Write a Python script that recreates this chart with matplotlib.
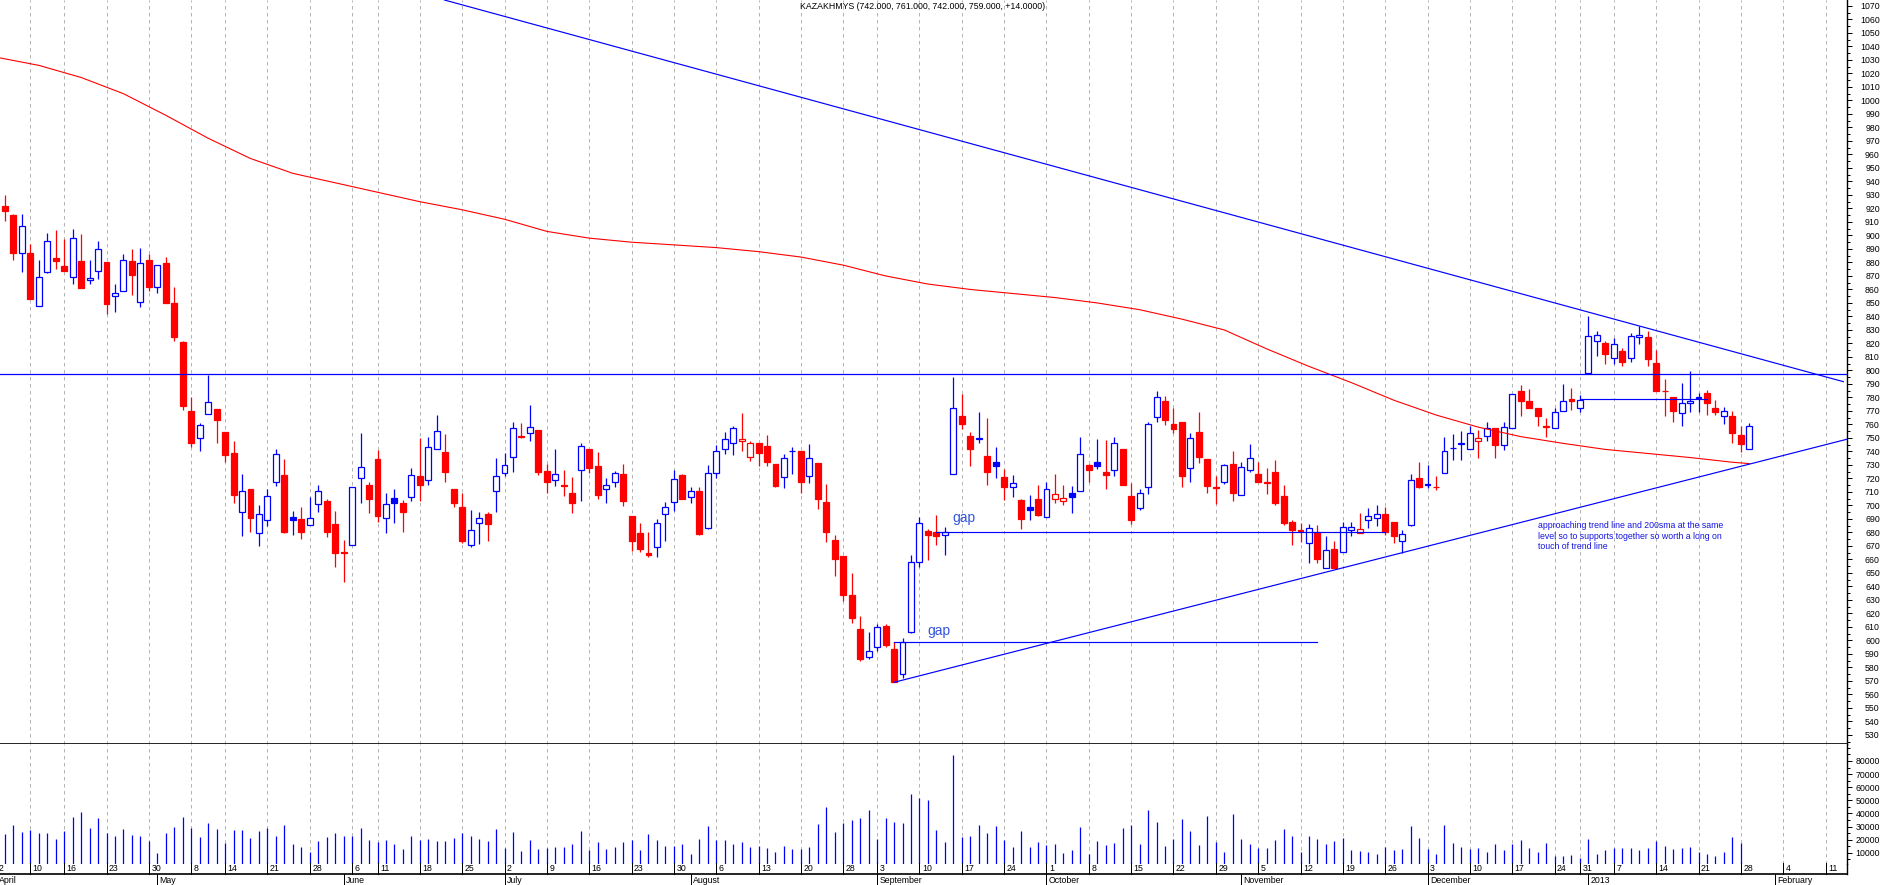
import numpy as np
import pandas as pd
import matplotlib
matplotlib.use("Agg")
import matplotlib.pyplot as plt
from matplotlib.patches import Rectangle
from matplotlib.collections import LineCollection
from matplotlib.lines import Line2D
from matplotlib.transforms import blended_transform_factory

plt.rcParams['font.family'] = ['Liberation Sans', 'DejaVu Sans']

TITLE = "KAZAKHMYS (742.000, 761.000, 742.000, 759.000, +14.0000)"
HOLIDAYS = ['2012-04-06', '2012-04-09', '2012-05-07', '2012-06-04', '2012-06-05',
            '2012-08-27', '2012-12-25', '2012-12-26', '2013-01-01']
calendar = pd.bdate_range('2012-04-02', '2013-02-15', freq='C', holidays=HOLIDAYS)

opens = [922, 915, 887, 887, 848, 873, 883, 877, 869, 881,
         867, 874, 880, 855, 858.5, 881, 850.5, 882, 862, 879.5,
         850, 821, 770, 750, 768, 771.5, 754.5, 739, 695, 712,
         679.5, 689.5, 717, 722.5, 691.5, 690, 685.5, 701, 703.5, 686.5,
         665.5, 671, 720, 715, 734.5, 691, 705.5, 701.5, 706.5, 722,
         718.5, 741.5, 739.5, 712.5, 699, 671, 687, 693.5, 710.5, 724,
         736, 751.5, 753.5, 756, 725.5, 718.5, 715.5, 709, 726, 741.5,
         729.5, 712, 717, 723.5, 692, 679.5, 665, 669, 694, 702.5,
         722.5, 706, 710.5, 683, 724, 741.5, 746, 747.5, 736, 746,
         744, 730.5, 721, 740, 740.5, 722, 731.5, 702.5, 674.5, 662.5,
         633.5, 608.5, 587.5, 595.5, 610.5, 594, 575, 606.5, 658, 681,
         680.5, 677.8, 723, 766.5, 751.5, 749.5, 736.5, 732, 721, 713.5,
         704, 698.5, 705, 691.5, 704.5, 703.5, 709, 710.5, 730, 732,
         725, 726, 742, 707, 698, 713.5, 765.5, 777.5, 760.5, 762,
         727.5, 754.5, 734.5, 713.4, 717, 731, 707.5, 726.5, 723.5, 717.3,
         724.5, 707, 688, 681.5, 672, 680, 654, 668, 665.5, 682,
         679.5, 689.5, 691, 694, 687.5, 673.5, 685.5, 720.5, 716, 713.9,
         724, 742.3, 745.8, 741.5, 748, 751.5, 757, 744.5, 757.5, 785,
         777.5, 772, 758.6, 757.2, 770, 778.5, 772, 798, 821.5, 820,
         809, 814.5, 809, 824.5, 824.5, 805.5, 785, 780.5, 768.5, 775.7,
         779.6, 783, 772.5, 766, 766.5, 752.5, 742]
highs = [930, 916, 916, 894, 882, 902, 904, 897, 905, 901,
         882, 896, 880.5, 864, 886, 890, 890.5, 886, 878, 884,
         862, 822, 780.5, 761, 796.5, 771.5, 754.5, 748, 723, 712.5,
         700.5, 712, 742, 734.5, 696, 699, 706.5, 715, 704.5, 696,
         674.5, 714, 754, 717.5, 741, 709.5, 712, 704, 727.5, 750,
         751, 767, 753, 712.5, 709.5, 696.5, 695, 695, 735, 739,
         762, 761, 774.5, 756, 730.5, 741.5, 726.5, 721, 746.5, 741.5,
         739.5, 720, 725.5, 730.5, 692, 687, 680.5, 690, 702.5, 726.5,
         723.5, 713.5, 713.5, 730, 745, 754.5, 759, 768.5, 748, 746,
         752, 730.5, 738, 743.5, 740.5, 745.5, 731.5, 716, 678, 662.5,
         650, 618, 606, 612.5, 612, 598.5, 601.5, 663.5, 691.5, 682.5,
         693, 684, 795.5, 782.5, 754.5, 769.5, 764.5, 743.5, 727, 722.5,
         705, 708, 715, 717.5, 723.5, 715, 714.5, 750.5, 730.5, 749,
         748.5, 750.5, 742, 716.5, 712, 762, 784.5, 781, 772.5, 762,
         754, 769.5, 734.5, 722, 731, 740.5, 732, 745.5, 732.5, 727.5,
         733.5, 715.5, 689.5, 687, 686.5, 685.5, 677.5, 673.5, 687.5, 687.5,
         694.5, 698, 700, 698.5, 687.5, 681.5, 723.5, 732, 730, 722,
         751, 753, 755.5, 759, 756, 761.5, 757, 761.5, 782.5, 789.5,
         786, 772, 765, 772.5, 790, 787, 782, 840, 829, 821.5,
         824, 816.5, 827.5, 833, 829.5, 815, 793.5, 780.5, 790.5, 799.5,
         783, 785.5, 778, 773, 770, 759, 761]
lows = [911, 882, 873, 853, 848, 872, 875, 874, 864, 861,
        864, 868, 842, 843.5, 858.5, 856, 847, 859, 857.5, 850,
        821.5, 771, 743, 740, 767.5, 746.5, 732.5, 702, 677.5, 680.5,
        670, 685, 714.5, 679.5, 678, 675, 685.5, 695.5, 677, 654.5,
        643, 671, 702, 694.5, 687.5, 679.5, 687, 680.5, 703, 703.5,
        715, 741.5, 717.5, 698.5, 672.5, 669, 671.5, 674, 695.5, 721.5,
        725, 750, 747.5, 722.5, 709.5, 714.5, 707, 694.5, 703.5, 724,
        704.5, 701.5, 713.5, 699.5, 666.5, 665.5, 661.5, 661.5, 674, 696,
        705, 702, 678, 682.5, 720, 738, 737.5, 740, 733, 729.5,
        729.5, 714, 713, 723.5, 709.5, 716.5, 697.5, 673, 648, 629.5,
        613, 585, 586.5, 592.5, 595.5, 569, 572, 605.5, 654.5, 659.5,
        670.5, 663.5, 723, 756.5, 729, 746.5, 715, 720.5, 704, 706,
        682.5, 689.5, 692.5, 691.5, 702, 700, 694.5, 710.5, 717, 727,
        712.5, 722, 715.5, 686, 696.5, 708.5, 762, 759.5, 753.5, 714,
        717.5, 731.5, 709.5, 701, 716, 703, 707.5, 724.5, 717, 708.5,
        700.5, 685.5, 671, 673, 657.5, 657.5, 654, 653.5, 665.5, 677.5,
        679.5, 683, 685, 678, 672, 665, 684.5, 713, 713, 711.5,
        724, 733.5, 733.5, 741.5, 735.5, 747.5, 735, 741, 757.5, 766,
        772.5, 759, 751, 757.2, 770, 770.5, 769, 798, 811, 804.5,
        804.5, 803.5, 806.5, 819.5, 803, 785, 766, 762, 759, 769,
        769, 767, 767, 760, 746.5, 739.5, 742]
closes = [918, 887, 907, 853, 869, 896, 881, 874, 898, 861,
          868.5, 890, 849.5, 857.5, 882, 871, 879.5, 861.5, 878, 850,
          825, 774, 746, 759.5, 776.5, 763.5, 737, 707.5, 711, 690.5,
          693.5, 707, 738, 680, 689.5, 680, 690.5, 710.5, 680, 665,
          664.8, 714, 728.5, 705, 692.5, 701, 701.5, 695.5, 722.5, 715.5,
          743, 755.5, 724.5, 702, 673.5, 681.5, 691, 686.5, 721.5, 730,
          757, 751, 758, 724.5, 717, 723, 714.5, 701.5, 744, 727.5,
          707.5, 715, 724, 703, 674, 668, 663, 687, 698.5, 719.5,
          705, 710.5, 678.5, 724, 740.5, 749.5, 757, 749, 746, 738.5,
          732.5, 714.5, 735, 740.5, 717, 735, 704.5, 680, 660, 634,
          617, 586, 592.5, 610, 596.5, 569.5, 598.5, 658, 687, 678,
          677.5, 680, 772.5, 760.5, 742, 750, 724.5, 729, 714, 716.5,
          690, 697, 692.7, 712.5, 708.5, 705.5, 706.5, 738, 726.5, 729,
          722.5, 746, 715.5, 689.5, 709, 760.5, 780.5, 763, 756.5, 721.5,
          750, 736, 714.5, 713, 730, 709, 728.5, 735, 717, 716.7,
          702, 687, 681.5, 681, 683, 660, 667, 653.5, 684, 684.3,
          682.5, 692.5, 693.5, 680, 677.5, 678.5, 718.5, 713.3, 714.8, 713.4,
          740.5, 742.8, 746.2, 754, 750, 757, 744.5, 758, 782.5, 777,
          772.5, 766.5, 758.2, 769.5, 777.5, 777, 778, 825.5, 826.5, 812,
          819.5, 806.5, 825.5, 826.5, 808.5, 785, 784.6, 770, 776, 777.4,
          780.1, 776, 769, 770, 754, 745.5, 759]
volumes = [24300, 31100, 26000, 27300, 25300, 25300, 20700, 26800, 37500, 41300,
           28800, 36700, 25000, 23000, 28300, 23500, 22700, 19200, 10000, 25000,
           29600, 37200, 28800, 22200, 32700, 28100, 17600, 27300, 27300, 21500,
           26800, 28800, 22700, 31400, 16600, 14300, 10800, 19200, 22200, 25300,
           22700, 22700, 29100, 19900, 18400, 19700, 16600, 13100, 22700, 19700,
           20400, 18900, 19200, 21200, 25000, 22700, 20400, 19200, 28300, 13300,
           26000, 11500, 19700, 13100, 13300, 14600, 14300, 16600, 26800, 12000,
           18400, 13100, 14300, 18200, 19700, 12000, 24500, 19900, 15400, 15400,
           16600, 9000, 20700, 30400, 19400, 19900, 16900, 18400, 14600, 15400,
           13800, 10500, 15100, 13100, 13100, 14600, 32100, 44900, 26000, 32700,
           34700, 36500, 42800, 20400, 36500, 33700, 32700, 54800, 51700, 50200,
           27000, 18200, 84600, 22000, 22700, 31100, 25000, 30400, 19700, 14300,
           26500, 14300, 18200, 15900, 16600, 9700, 12000, 29600, 9000, 18900,
           15900, 17400, 28800, 31100, 16600, 42800, 33400, 15100, 20400, 35700,
           26500, 15900, 38000, 18200, 10500, 39500, 20400, 16600, 13600, 13600,
           19700, 28100, 22700, 10500, 22700, 20400, 16600, 18900, 21200, 12000,
           11300, 10500, 9000, 14300, 12000, 12800, 30400, 21200, 12800, 9000,
           31100, 17400, 14300, 12800, 13600, 10500, 16600, 12000, 16600, 19700,
           13600, 10500, 17400, 7500, 7500, 8200, 6000, 20400, 9000, 12000,
           13600, 13600, 13600, 12000, 13600, 18900, 15100, 12800, 13600, 14300,
           10500, 9000, 7500, 10500, 22000, 17400]

# 200-day SMA read at weekly calendar positions
sma_pos = list(range(0, 206, 5)) + [207]
sma_vals = [1032, 1026, 1017, 1005, 989, 972, 957, 946, 939, 932,
            925, 919, 912, 903, 898, 895, 893, 891, 888, 884,
            878, 870, 864, 860, 857, 854, 850, 845, 838, 830,
            816, 803, 791, 778, 767, 758, 751, 746, 741.5, 738.5,
            735.5, 732, 731]

# drawn lines: (calendar position, price)
resistance_line = [(52.9, 1074.4), (218.1, 791.7)]
support_line = [(106, 569), (218.5, 749)]
level_797 = 797
gap_low_line = [(106, 598.5), (156, 598.5)]
gap_high_line = [(111, 680.5), (164, 680.5)]
jan_line = [(187, 778.7), (202, 778.7)]
gap_labels = [(109.9, 604, 'gap'), (112.9, 688, 'gap')]
note_lines = ["approaching trend line and 200sma at the same",
              "level so to supports together so worth a long on",
              "touch of trend line"]
note_y = [684.8, 676.7, 669.5]
note_x = 182.1

BLUE = '#0000FF'
RED = '#FF0000'
GRID = '#B4B4B4'
W, H = 1883, 885
AX_R = 1846.7
MAIN_B = 744
VOL_B = 863.5


def fy(p):
    return 1 - p / H


def fx(p):
    return p / W


fig = plt.figure(figsize=(W / 100, H / 100), dpi=100)
ax = fig.add_axes([0, fy(MAIN_B), fx(AX_R), MAIN_B / H])
axv = fig.add_axes([0, fy(VOL_B), fx(AX_R), (VOL_B - MAIN_B) / H])
XMIN, XMAX = 0.42, 218.5
for a in (ax, axv):
    a.set_xlim(XMIN, XMAX)
    a.set_facecolor('white')
    a.spines['top'].set_visible(False)
    a.spines['left'].set_visible(False)
    a.spines['right'].set_linewidth(1.0)
    a.set_xticks([])
ax.spines['bottom'].set_linewidth(1.2)
axv.spines['bottom'].set_visible(False)
ax.set_ylim(523.3, 1074.4)
axv.set_ylim(1756, 92977)

# y axes on right
ax.yaxis.tick_right()
ax.set_yticks(np.arange(530, 1071, 10))
ax.set_yticks(np.arange(525, 1075, 5), minor=True)
axv.yaxis.tick_right()
axv.set_yticks(np.arange(10000, 80001, 10000))
axv.set_yticks(np.arange(5000, 90001, 5000), minor=True)
for a in (ax, axv):
    a.tick_params(axis='y', which='major', length=3.6, width=0.72, pad=20.2,
                  labelsize=6.3, direction='out', right=True, labelright=True,
                  left=False, labelleft=False)
    a.tick_params(axis='y', which='minor', length=1.8, width=0.72, direction='out',
                  right=True, left=False)
    plt.setp(a.yaxis.get_majorticklabels(), ha='right')

# calendar structure
pos = np.arange(len(calendar))
week_starts = [i for i in pos if i == 0 or calendar[i].weekday() < calendar[i - 1].weekday()]
month_starts = [i for i in pos if i == 0 or calendar[i].month != calendar[i - 1].month]

for i in week_starts:
    for a in (ax, axv):
        a.axvline(i, color=GRID, lw=0.72, linestyle=(0, (3.5, 3.5)), zorder=0.5)

# candles
xc = np.arange(1, 1 + len(opens))
wick_segs, wick_cols = [], []
prev = None
cw = 0.7
for x, o, h, l, c in zip(xc, opens, highs, lows, closes):
    ref = prev if prev is not None else o
    col = BLUE if c >= ref else RED
    hollow = c >= o
    prev = c
    wick_segs.append([(x, l), (x, h)])
    wick_cols.append(col)
    bottom = min(o, c)
    height = max(abs(c - o), 0.05)
    ax.add_patch(Rectangle((x - cw / 2, bottom), cw, height,
                           facecolor='white' if hollow else col,
                           edgecolor=col, linewidth=0.9, zorder=3))
ax.add_collection(LineCollection(wick_segs, colors=wick_cols, linewidths=0.9, zorder=2))

# volume
xv = np.arange(1, 1 + len(volumes))
axv.vlines(xv, 0, volumes, color=BLUE, lw=0.9, zorder=2)

# overlays
ax.plot(sma_pos, sma_vals, color=RED, lw=0.8, zorder=4)
for seg in (resistance_line, support_line, gap_low_line, gap_high_line, jan_line):
    xs, ys = zip(*seg)
    ax.plot(xs, ys, color=BLUE, lw=0.85, zorder=4)
ax.axhline(level_797, color=BLUE, lw=0.9, zorder=4)
for gx, gy, gt in gap_labels:
    ax.text(gx, gy, gt, color='#3355DD', fontsize=10, ha='left', va='baseline', zorder=5)
for t, yy in zip(note_lines, note_y):
    ax.text(note_x, yy, t, color='#1515E0', fontsize=6.3, ha='left', va='center', zorder=5)

# title
fig.text(fx(923), fy(6.7), TITLE, ha='center', va='center', fontsize=6.3, color='black')

# date axis
bt = blended_transform_factory(axv.transData, fig.transFigure)
for i in week_starts:
    axv.add_line(Line2D([i, i], [fy(862.7), fy(874.3)], transform=bt, color='black',
                        lw=0.72, clip_on=False))
    axv.text(i + 0.28, fy(868.6), str(calendar[i].day), transform=bt, fontsize=6.3,
             ha='left', va='center', clip_on=False)
for i in month_starts:
    d = calendar[i]
    name = str(d.year) if d.month == 1 else d.strftime('%B')
    axv.add_line(Line2D([i, i], [fy(874.3), fy(885)], transform=bt, color='black',
                        lw=0.72, clip_on=False))
    axv.text(i + 0.28, fy(880.6), name, transform=bt, fontsize=6.3,
             ha='left', va='center', clip_on=False)
fig.add_artist(Line2D([0, fx(AX_R)], [fy(874.3), fy(874.3)], transform=fig.transFigure,
                      color='black', lw=1.2))
fig.add_artist(Line2D([fx(AX_R), fx(AX_R)], [fy(VOL_B), fy(874.3)], transform=fig.transFigure,
                      color='black', lw=1.0))

fig.savefig('out.png', dpi=100, facecolor='white')
